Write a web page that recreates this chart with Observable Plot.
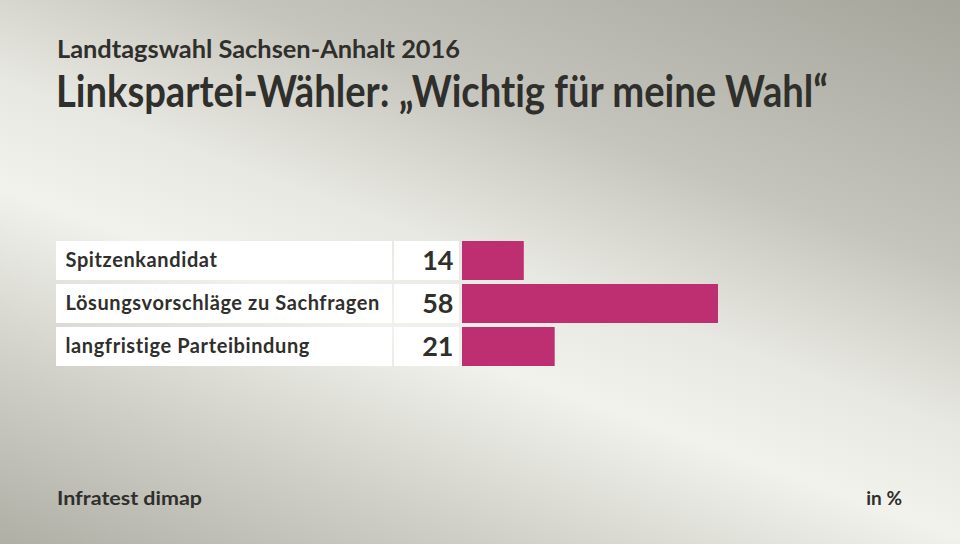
<!DOCTYPE html>
<html><head><meta charset="utf-8">
<script src="https://cdn.jsdelivr.net/npm/d3@7"></script>
<script src="https://cdn.jsdelivr.net/npm/@observablehq/plot@0.6"></script>
<style>
html,body{margin:0;padding:0;}
#wrap{position:relative;width:960px;height:544px;overflow:hidden;font-family:Lato,"Open Sans",sans-serif;color:#2f2f2c;font-variant-ligatures:none;
background:linear-gradient(20deg,#b0afa6 0%,#cfcfc7 20%,#f2f2ed 40%,#e8e8e2 52%,#c6c5bd 70%,#a6a59c 100%);}
.t{position:absolute;white-space:nowrap;transform-origin:0 0;}
#sub{left:57px;top:34px;font-size:24px;font-weight:700;}
#title{left:56px;top:64px;font-size:44px;font-weight:700;}
#src{left:57px;top:486px;font-size:19px;font-weight:700;}
#unit{right:58px;top:486px;font-size:19px;font-weight:700;}
#chart{position:absolute;left:0;top:230px;}
#chart text{font-variant-ligatures:none;}
</style></head>
<body><div id="wrap">
<div class="t" id="sub">Landtagswahl Sachsen-Anhalt 2016</div>
<div class="t" id="title">Linkspartei-Wähler: „Wichtig für meine Wahl“</div>
<div class="t" id="src">Infratest dimap</div>
<div class="t" id="unit">in %</div>
<div id="chart"></div>
</div>
<script>
const categories = ["Spitzenkandidat", "Lösungsvorschläge zu Sachfragen", "langfristige Parteibindung"];
const values = [14, 58, 21];
const rows = categories.map((c, i) => ({label: c, value: values[i]}));

const chart = Plot.plot({
  width: 960, height: 146,
  marginLeft: 462, marginRight: 242, marginTop: 10, marginBottom: 10,
  x: {domain: [0, 58], axis: null},
  y: {domain: categories, axis: null, paddingInner: 0.1, paddingOuter: 0},
  style: {background: "transparent", overflow: "visible"},
  marks: [
    Plot.barX(rows, {x1: 0, x2: 0, y: "label", fill: "white", insetLeft: -406, insetRight: 70}),
    Plot.barX(rows, {x1: 0, x2: 0, y: "label", fill: "white", insetLeft: -68, insetRight: 3}),
    Plot.barX(rows, {x: "value", y: "label", fill: "#be2f72", insetLeft: 0}),
    Plot.text(rows, {x: 0, y: "label", text: "label", dx: -397, textAnchor: "start", fontSize: 20, fontWeight: 700, fill: "#2f2f2c", fontFamily: "Lato", className: "lbl"}),
    Plot.text(rows, {x: 0, y: "label", text: d => String(d.value), dx: -9, textAnchor: "end", fontSize: 27, fontWeight: 700, fill: "#2f2f2c", fontFamily: "Lato"})
  ]
});
document.getElementById("chart").appendChild(chart);
chart.querySelectorAll(".lbl text").forEach(t => t.setAttribute("letter-spacing", "0.6"));

function fit(id, w) {
  const el = document.getElementById(id);
  const r = el.getBoundingClientRect().width;
  el.style.transform = `scaleX(${w / r})`;
}
fit("title", 772);
fit("sub", 403);
fit("src", 145);
</script>
</body></html>
